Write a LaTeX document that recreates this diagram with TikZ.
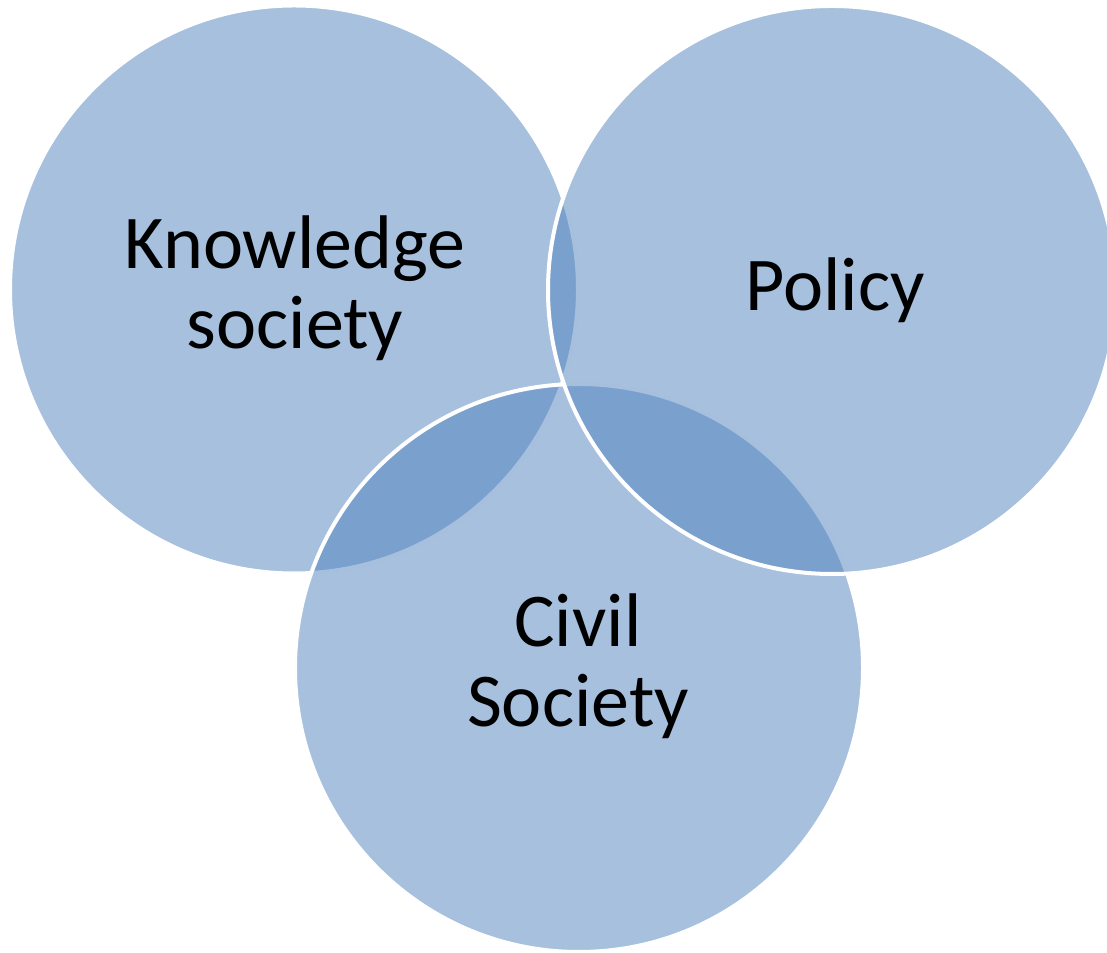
\documentclass[tikz,border=0pt]{standalone}
\usepackage{fontspec}
\setmainfont{Carlito}
\definecolor{vennblue}{HTML}{4F81BD}
\begin{document}
\begin{tikzpicture}[x=1pt,y=1pt,
  vennset/.style={circle, minimum size=568pt, inner sep=0pt,
    fill=vennblue, fill opacity=0.5, draw=white, line width=4pt},
  vennlabel/.style={anchor=base, inner sep=0pt, align=center,
    font=\fontsize{76}{80}\selectfont, text=black}]
\useasboundingbox (0,0) rectangle (1107,952);
% circles, back to front
\node[vennset] (know)   at (294,662.5) {};
\node[vennset] (civil)  at (579,284)   {};
\node[vennset] (policy) at (832,662)   {};
% labels
\node[vennlabel] (tknow)   at (295,603) {Knowledge\\society};
\node[vennlabel] (tpolicy) at (835,641) {Policy};
\node[vennlabel] (tcivil)  at (578,225) {Civil\\Society};
\end{tikzpicture}
\end{document}
